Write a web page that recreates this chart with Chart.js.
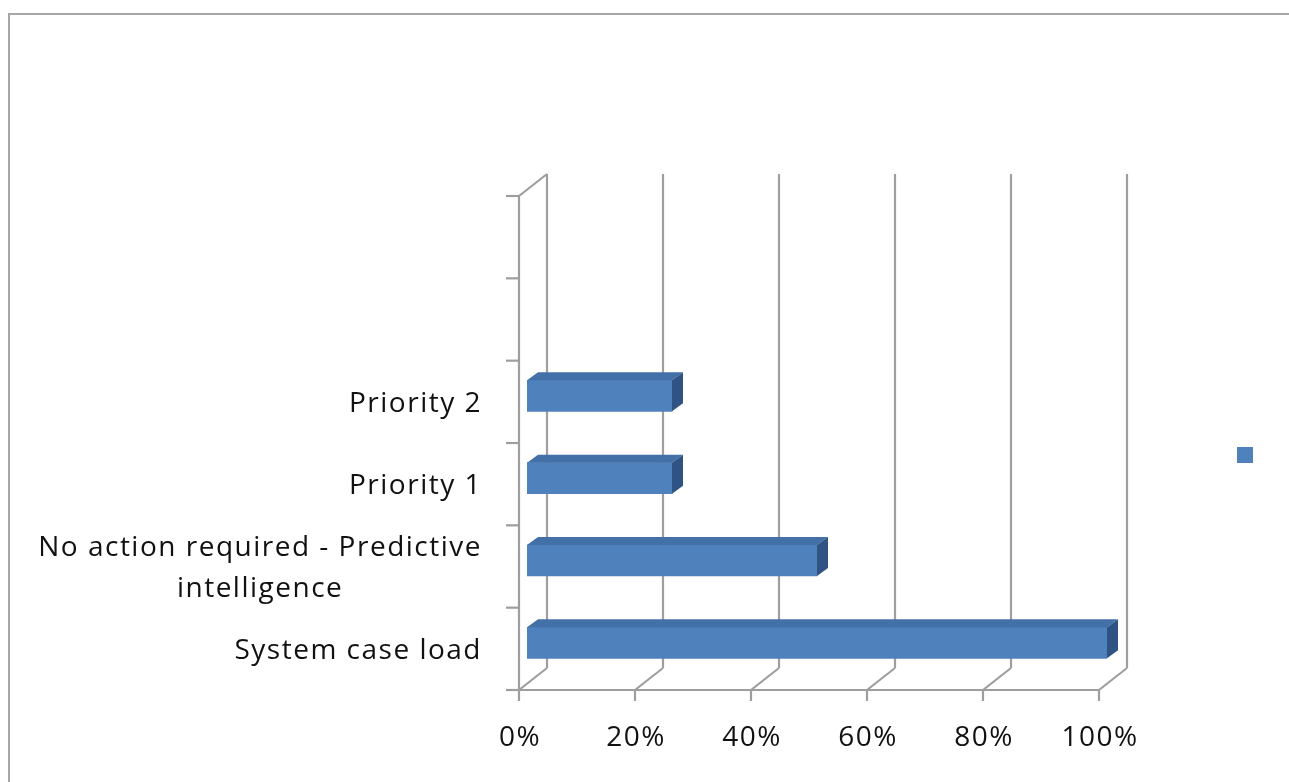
<!DOCTYPE html>
<html lang="en">
<head>
  <meta charset="UTF-8">
  <title>Case load</title>
  <script src="https://cdn.jsdelivr.net/npm/chart.js"></script>
  <style>
    body { margin: 0; background: #fff; }
    canvas { display: block; }
  </style>
</head>
<body>
  <canvas id="grafica" width="1289" height="782"></canvas>
  <script>
// data, bottom to top like the original
const categories = ['System case load', ['No action required - Predictive', 'intelligence'], 'Priority 1', 'Priority 2', '', ''];
const shares = [1.0, 0.5, 0.25, 0.25, null, null];
const tickValues = [0, 0.2, 0.4, 0.6, 0.8, 1.0];
const tickLabels = ['0%', '20%', '40%', '60%', '80%', '100%'];

const blue = '#4F81BD';
const gridColor = '#9E9E9E';
const font = '28px "Open Sans", sans-serif';

// offsets from the bar plane (chart area) to the front and back planes
const front = { dx: -8, dy: 6 };
const back = { dx: 20, dy: -16 };
const depth = { dx: 11, dy: -8 };

function line(ctx, x1, y1, x2, y2) {
  ctx.beginPath();
  ctx.moveTo(x1, y1);
  ctx.lineTo(x2, y2);
  ctx.stroke();
}

const box3d = {
  id: 'box3d',
  beforeDraw(chart) {
    const ctx = chart.ctx;
    ctx.save();
    ctx.fillStyle = '#fff';
    ctx.fillRect(0, 0, chart.width, chart.height);
    ctx.strokeStyle = '#A6A6A6';
    ctx.lineWidth = 2;
    ctx.strokeRect(9, 14, chart.width + 20, chart.height + 20);
    ctx.restore();
  },
  beforeDatasetsDraw(chart) {
    const ctx = chart.ctx;
    const xs = chart.scales.x, ys = chart.scales.y;
    const area = chart.chartArea;
    const slot = (area.bottom - area.top) / categories.length;
    ctx.save();
    ctx.strokeStyle = gridColor;
    ctx.lineWidth = 2.2;
    const top = area.top, bottom = area.bottom;
    // back wall gridlines + floor diagonals + x tick marks
    tickValues.forEach(v => {
      const px = xs.getPixelForValue(v);
      line(ctx, px + back.dx, top + back.dy, px + back.dx, bottom + back.dy);
      line(ctx, px + front.dx, bottom + front.dy, px + back.dx, bottom + back.dy);
      line(ctx, px + front.dx, bottom + front.dy, px + front.dx, bottom + front.dy + 11);
    });
    const x0 = xs.getPixelForValue(0);
    const x1 = xs.getPixelForValue(1);
    // front floor edge and side wall
    line(ctx, x0 + front.dx, bottom + front.dy, x1 + front.dx, bottom + front.dy);
    line(ctx, x0 + front.dx, top + front.dy, x0 + front.dx, bottom + front.dy);
    line(ctx, x0 + front.dx, top + front.dy, x0 + back.dx, top + back.dy);
    // category tick marks
    categories.forEach((c, i) => {
      const cy = ys.getPixelForValue(i);
      line(ctx, x0 + front.dx - 13, cy + slot / 2 + front.dy, x0 + front.dx, cy + slot / 2 + front.dy);
    });
    line(ctx, x0 + front.dx - 13, top + front.dy, x0 + front.dx, top + front.dy);
    ctx.restore();
  },
  afterDatasetsDraw(chart) {
    const ctx = chart.ctx;
    const meta = chart.getDatasetMeta(0);
    ctx.save();
    meta.data.forEach((bar, i) => {
      if (shares[i] == null) return;
      const { x, y, base, height } = bar.getProps(['x', 'y', 'base', 'height'], true);
      const yt = y - height / 2, yb = y + height / 2;
      ctx.fillStyle = '#4470A8';
      ctx.beginPath();
      ctx.moveTo(base, yt);
      ctx.lineTo(base + depth.dx, yt + depth.dy);
      ctx.lineTo(x + depth.dx, yt + depth.dy);
      ctx.lineTo(x, yt);
      ctx.closePath();
      ctx.fill();
      ctx.fillStyle = '#2F5382';
      ctx.beginPath();
      ctx.moveTo(x, yt);
      ctx.lineTo(x + depth.dx, yt + depth.dy);
      ctx.lineTo(x + depth.dx, yb + depth.dy);
      ctx.lineTo(x, yb);
      ctx.closePath();
      ctx.fill();
    });
    ctx.restore();
  },
  afterDraw(chart) {
    const ctx = chart.ctx;
    const xs = chart.scales.x, ys = chart.scales.y;
    ctx.save();
    ctx.font = font;
    ctx.fillStyle = '#111';
    if ('letterSpacing' in ctx) ctx.letterSpacing = '1.5px';
    ctx.textBaseline = 'middle';
    // x tick labels
    ctx.textAlign = 'center';
    tickValues.forEach((v, i) => {
      ctx.fillText(tickLabels[i], xs.getPixelForValue(v) + front.dx + 1, 738);
    });
    // category labels: each block right aligned, lines centred in it
    const right = 482;
    categories.forEach((c, i) => {
      const lines = Array.isArray(c) ? c : [c];
      if (!lines[0]) return;
      const cy = ys.getPixelForValue(i) + front.dy + 2;
      const w = Math.max(...lines.map(t => ctx.measureText(t).width));
      const lh = 41;
      lines.forEach((t, k) => {
        ctx.fillText(t, right - w / 2, cy + (k - (lines.length - 1) / 2) * lh);
      });
    });
    // legend key (series has no name)
    ctx.fillStyle = blue;
    ctx.fillRect(1237, 447, 16, 16);
    ctx.restore();
  }
};

new Chart(document.getElementById('grafica').getContext('2d'), {
  type: 'bar',
  data: {
    labels: categories,
    datasets: [{
      label: '',
      data: shares,
      backgroundColor: blue,
      borderWidth: 0,
      barThickness: 31
    }]
  },
  options: {
    indexAxis: 'y',
    responsive: false,
    animation: false,
    layout: { padding: { left: 527, right: 182, top: 190, bottom: 98 } },
    plugins: { legend: { display: false }, tooltip: { enabled: false } },
    scales: {
      x: { type: 'linear', min: 0, max: 1, display: false },
      y: { type: 'category', reverse: true, display: false }
    }
  },
  plugins: [box3d]
});
  </script>
</body>
</html>
